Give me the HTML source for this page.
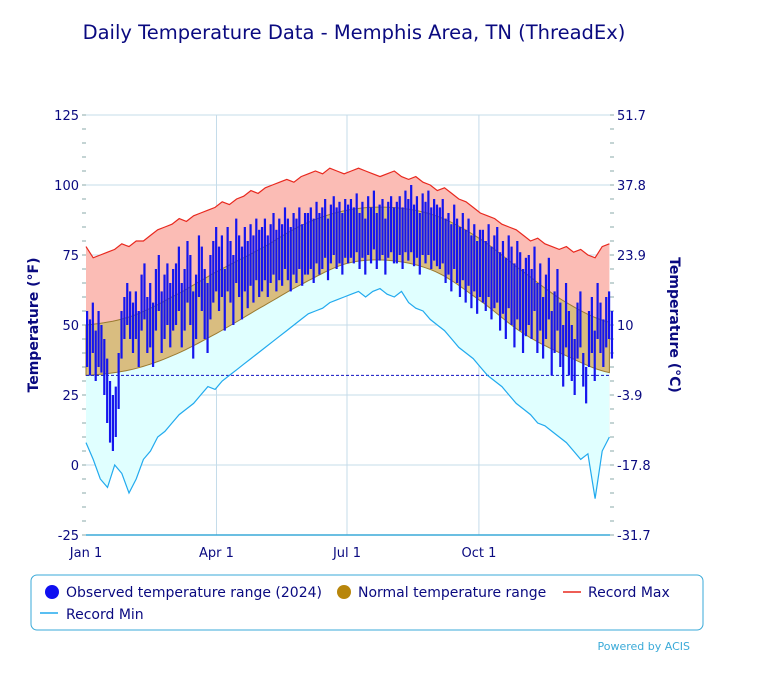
<!DOCTYPE html>
<html><head><meta charset="utf-8"><style>
body{margin:0;background:#fff;font-family:"Liberation Sans",sans-serif}
svg text{font-family:"DejaVu Sans","Liberation Sans",sans-serif}
</style></head><body>
<svg id="c" width="762" height="690" xmlns="http://www.w3.org/2000/svg">
<text x="354" y="39" text-anchor="middle" font-size="19.5" fill="#0a0a80">Daily Temperature Data - Memphis Area, TN (ThreadEx)</text>
<g id="plot"></g>
<g>
<rect x="31" y="575" width="672" height="55" rx="6" fill="#fff" stroke="#3aaad8"/>
<g><circle cx="52" cy="592" r="7" fill="#1010f0"/><text x="66" y="597" font-size="14" fill="#0a0a80">Observed temperature range (2024)</text></g>
<g><circle cx="344" cy="592" r="7" fill="#b8860b"/><text x="358" y="597" font-size="14" fill="#0a0a80">Normal temperature range</text></g>
<g><line x1="563" y1="592" x2="581" y2="592" stroke="#e8281e" stroke-width="1.5"/><text x="588" y="597" font-size="14" fill="#0a0a80">Record Max</text></g>
<g><line x1="40" y1="613" x2="58" y2="613" stroke="#22aaee" stroke-width="1.5"/><text x="66" y="619" font-size="14" fill="#0a0a80">Record Min</text></g>
</g>
<text x="690" y="650" text-anchor="end" font-size="11" fill="#3aaad8">Powered by ACIS</text>
</svg>
<script>
const obsHigh=[55,52,58,48,55,50,45,38,30,25,28,40,55,60,65,62,58,62,55,68,72,60,65,58,70,75,62,68,72,65,70,72,78,65,70,80,75,62,68,82,78,70,65,75,80,85,78,82,70,85,80,75,88,82,78,85,80,86,82,88,84,85,88,82,86,90,84,88,86,92,88,85,90,88,92,86,90,90,92,88,94,90,92,95,88,93,96,92,94,90,95,93,95,92,97,90,94,88,96,92,98,90,93,95,88,94,96,92,94,96,92,98,95,100,93,96,90,97,94,98,92,95,93,92,95,88,90,86,93,88,85,90,84,88,82,86,80,84,84,80,86,78,82,85,76,80,74,82,78,72,80,76,70,74,75,70,78,65,72,60,68,74,55,62,70,58,50,65,55,50,45,58,62,40,35,55,60,48,65,58,52,60,62,55];
const obsLow=[35,32,40,30,35,33,25,15,8,5,10,20,38,45,50,45,40,45,35,48,52,40,42,35,48,55,40,45,50,42,48,50,55,42,48,58,50,38,45,60,55,45,40,52,58,62,55,60,48,62,58,50,65,60,52,62,56,64,58,66,60,62,66,60,65,68,62,66,64,70,66,62,68,65,70,64,68,68,70,65,72,68,70,74,66,72,75,70,72,68,74,72,74,72,76,70,74,68,75,72,77,70,73,75,68,74,76,72,72,75,70,76,73,76,71,74,68,75,72,75,70,73,71,70,72,65,68,62,70,65,60,66,58,64,56,62,54,60,58,55,60,52,56,58,48,54,45,56,50,42,52,48,40,46,50,45,55,40,48,38,45,52,32,40,48,35,28,42,32,30,25,38,42,28,22,35,40,30,45,40,35,42,45,38];
const recMax=[78,74,75,76,77,79,78,80,80,82,84,85,86,88,87,89,90,91,92,94,93,95,96,98,97,99,100,101,102,101,103,104,105,104,106,105,104,105,106,105,104,103,104,105,103,102,103,101,100,98,99,97,95,94,92,90,89,88,86,85,84,82,80,81,79,78,77,78,76,77,75,74,78,79];
const recMin=[8,2,-5,-8,0,-3,-10,-5,2,5,10,12,15,18,20,22,25,28,27,30,32,34,36,38,40,42,44,46,48,50,52,54,55,56,58,59,60,61,62,60,62,63,61,60,62,58,56,55,52,50,48,45,42,40,38,35,32,30,28,25,22,20,18,15,14,12,10,8,5,2,4,-12,5,10];
const normDays=[0,31,60,91,121,152,182,213,244,274,305,335,365];
const normHigh=[50,53,60,69,77,86,91,92,89,81,69,58,51];
const normLow=[32,34,39,47,56,65,72,73,69,59,47,39,33];
const leftTicks=[125,100,75,50,25,0,-25];
const rightTicks=["51.7","37.8","23.9","10","-3.9","-17.8","-31.7"];
const monthLabels=["Jan 1","Apr 1","Jul 1","Oct 1"];
const monthDays=[0,91,182,274];

const X=d=>86+d*1.434, Y=t=>115+(125-t)*2.8;
const g=document.getElementById('plot'), NS='http://www.w3.org/2000/svg';
function mk(tag,a,p){const e=document.createElementNS(NS,tag);for(const k in a)e.setAttribute(k,a[k]);(p||g).appendChild(e);return e;}
function pts(arr,step){return arr.map((v,i)=>[X(i*step),Y(v)]);}
const rmaxP=pts(recMax,365/(recMax.length-1)), rminP=pts(recMin,365/(recMin.length-1));
function smooth(days,vals){const out=[];for(let i=0;i<days.length-1;i++){const p0=vals[Math.max(i-1,0)],p1=vals[i],p2=vals[i+1],p3=vals[Math.min(i+2,vals.length-1)];for(let s=0;s<10;s++){const t=s/10;const v=0.5*((2*p1)+(-p0+p2)*t+(2*p0-5*p1+4*p2-p3)*t*t+(-p0+3*p1-3*p2+p3)*t*t*t);out.push([X(days[i]+(days[i+1]-days[i])*t),Y(v)]);}}out.push([X(days[days.length-1]),Y(vals[vals.length-1])]);return out;}
const nh=smooth(normDays,normHigh), nl=smooth(normDays,normLow);
const S=a=>a.map(p=>p[0].toFixed(1)+','+p[1].toFixed(1)).join(' ');
leftTicks.forEach((t,i)=>{
 const l=mk('line',{x1:86,x2:610,y1:Y(t),y2:Y(t),stroke:'#c5dcea','stroke-width':1});
 
 const a=mk('text',{x:79,y:Y(t)+5,'text-anchor':'end','font-size':13,fill:'#0a0a80'});a.textContent=t;
 
 const b=mk('text',{x:617,y:Y(t)+5,'font-size':13,fill:'#0a0a80'});b.textContent=rightTicks[i];
 
});
for(let t=-25;t<=125;t+=5){mk('line',{x1:82,x2:86,y1:Y(t),y2:Y(t),stroke:'#8aa'});mk('line',{x1:610,x2:614,y1:Y(t),y2:Y(t),stroke:'#8aa'});}
monthDays.forEach((d,i)=>{
 if(i>0){const l=mk('line',{x1:X(d),x2:X(d),y1:115,y2:535,stroke:'#c5dcea'});}
 const t=mk('text',{x:X(d),y:557,'text-anchor':'middle','font-size':13,fill:'#0a0a80'});t.textContent=monthLabels[i];
 
});
const pink=mk('polygon',{points:S(rmaxP)+' '+S(rminP.slice().reverse()),fill:'#fbbcb5'});

const cyan=mk('polygon',{points:S(nh)+' '+S(rminP.slice().reverse()),fill:'#e0ffff'});

const tan=mk('polygon',{points:S(nh)+' '+S(nl.slice().reverse()),fill:'#d9bd80',stroke:'#9a7a30','stroke-width':1});

const fz=mk('line',{x1:86,x2:610,y1:Y(32),y2:Y(32),stroke:'#1010c0','stroke-dasharray':'3,2'});

const rx=mk('polyline',{points:S(rmaxP),fill:'none',stroke:'#e8281e','stroke-width':1.2});

const rn=mk('polyline',{points:S(rminP),fill:'none',stroke:'#22aaee','stroke-width':1.2});

obsHigh.forEach((h,i)=>{
 const x=X(i*2);
 const b=mk('rect',{x:x,y:Y(h),width:2.2,height:Math.max(1,Y(obsLow[i])-Y(h)),fill:'#1515ee'});
 
});
const ax=mk('line',{x1:86,x2:610,y1:535,y2:535,stroke:'#3aaad8','stroke-width':1.5});

const yl=mk('text',{x:0,y:0,transform:'translate(38,325) rotate(-90)','text-anchor':'middle','font-size':14,'font-weight':'bold',fill:'#0a0a80'});yl.textContent='Temperature (°F)';

const yr=mk('text',{x:0,y:0,transform:'translate(670,325) rotate(90)','text-anchor':'middle','font-size':14,'font-weight':'bold',fill:'#0a0a80'});yr.textContent='Temperature (°C)';

</script>
</body></html>
